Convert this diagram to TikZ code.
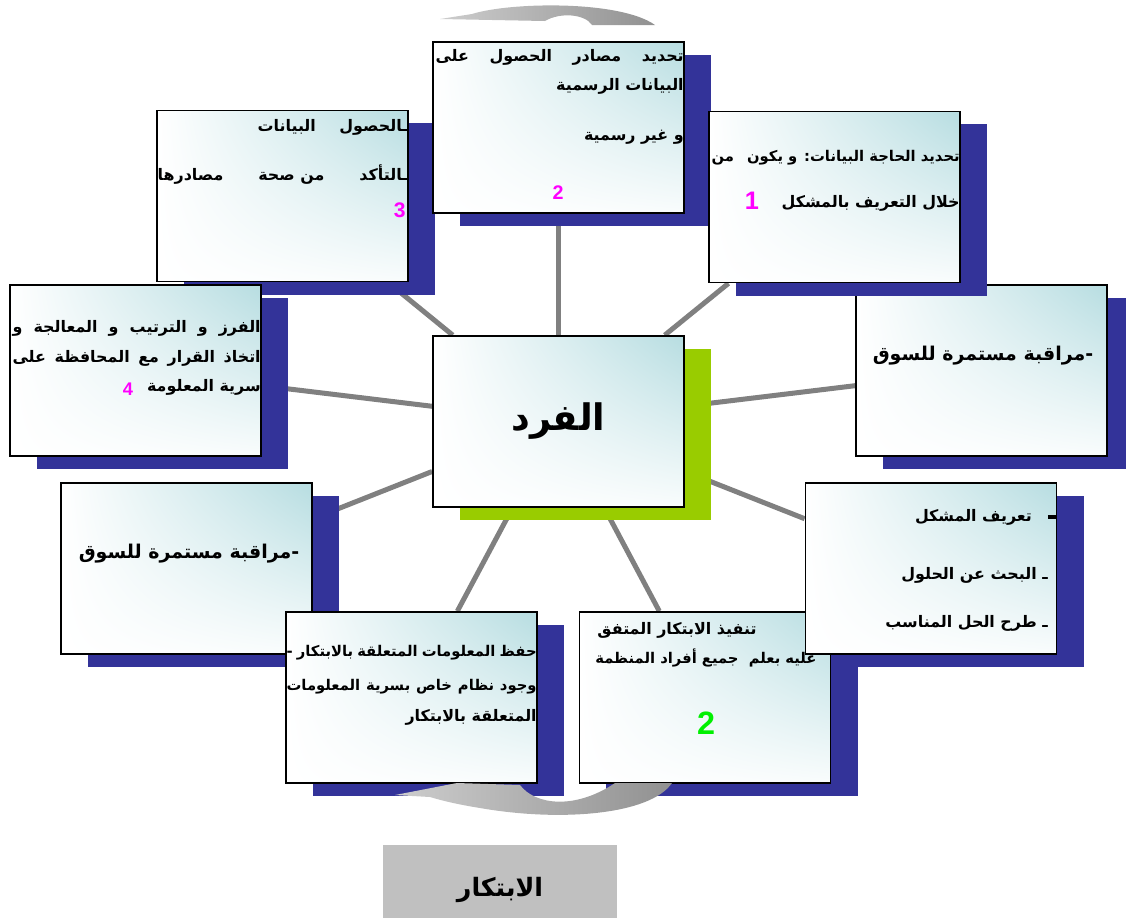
\documentclass[tikz,border=0pt]{standalone}
\usepackage{fontspec}
\newfontfamily\arabicfont[Script=Arabic]{DejaVu Sans}
\newfontfamily\numfont{Liberation Sans}
\TeXXeTstate=1
\usetikzlibrary{shadows,shadings}
\definecolor{boxblue}{RGB}{51,51,153}
\definecolor{hubgreen}{RGB}{153,204,0}
\definecolor{cellteal}{RGB}{183,221,225}
\definecolor{spokegray}{RGB}{128,128,128}
\definecolor{numpink}{RGB}{255,0,255}
\definecolor{numgreen}{RGB}{0,240,0}
\definecolor{lblgray}{RGB}{192,192,192}
\definecolor{arrowlight}{RGB}{205,205,205}
\definecolor{arrowdark}{RGB}{145,145,145}
\pgfdeclarelayer{bg}
\pgfsetlayers{bg,main}
\tikzset{
  cellbase/.style={draw=black, line width=1.2pt, minimum width=6.275cm, minimum height=4.275cm,
    inner sep=0pt, upper left=white, lower left=white, upper right=cellteal,
    lower right=white!92!cellteal},
  cell/.style={cellbase, drop shadow={shadow xshift=0.675cm, shadow yshift=-0.325cm,
    fill=boxblue, opacity=1}},
  hubcell/.style={cellbase, drop shadow={shadow xshift=0.675cm, shadow yshift=-0.325cm,
    fill=hubgreen, opacity=1}},
  spoke/.style={draw=spokegray, line width=0.125cm},
  txt/.style={font=\arabicfont\bfseries\fontsize{11.3}{13}\selectfont, inner sep=0pt},
  tighttxt/.style={font=\arabicfont\bfseries\fontsize{10.5}{12}\selectfont, inner sep=0pt},
  bigtxt/.style={font=\arabicfont\bfseries\fontsize{13.5}{15}\selectfont, inner sep=0pt},
  num/.style={font=\numfont\bfseries\fontsize{#1}{#1}\selectfont, text=numpink, inner sep=0pt},
}
\begin{document}
\begin{tikzpicture}[x=0.025cm, y=-0.025cm]
\useasboundingbox (0,0) rectangle (1126,917);

\node[cell] (topleft) at (282.5,196) {};
\node[cell] (lft) at (135.5,370.5) {};
\node[cell] (botleft) at (186.5,568.5) {};
\node[cell] (botmid) at (411.5,697.5) {};
\node[cell] (top) at (558.5,127.5) {};
\node[cell] (rgt) at (981.5,370.5) {};
\node[cell] (topright) at (834.5,197) {};
\node[cell] (botright) at (705,697.5) {};
\node[cell] (lowright) at (931,568.5) {};
\node[hubcell, font=\arabicfont\bfseries\fontsize{26}{26}\selectfont] (hub) at (558.5,421.5)
  {\raisebox{-0.22cm}{\beginR الفرد\endR}};

\begin{pgfonlayer}{bg}
  \foreach \n in {top,topright,topleft,lft,rgt,botleft,lowright,botmid,botright}
    \draw[spoke] (hub) -- (\n);
\end{pgfonlayer}

\node[txt, anchor=east] at (684,57) {\hbox to 6.2cm{\beginR تحديد\hfill مصادر\hfill الحصول\hfill على\endR}};
\node[txt, anchor=east] at (684,86) {\beginR البيانات الرسمية\endR};
\node[txt, anchor=east] at (684,137) {\beginR و غير رسمية\endR};
\node[num=14] at (558,193) {2};

\node[tighttxt, anchor=east] at (960,158) {\hbox to 6.2cm{\beginR تحديد الحاجة البيانات: و يكون\hfill من\endR}};
\node[txt, anchor=east] at (960,203) {\beginR خلال التعريف بالمشكل\endR};
\node[num=18] at (752,201) {1};

\node[txt, anchor=east] at (408,127) {\hbox to 3.75cm{\beginR ـالحصول\hfill البيانات\endR}};
\node[txt, anchor=east] at (408,175) {\hbox to 6.25cm{\beginR ـالتأكد\hfill من صحة\hfill مصادرها\endR}};
\node[num=15, anchor=east] at (406,210) {3};

\node[txt, anchor=east] at (261,328) {\hbox to 6.2cm{\beginR الفرز \hfill و \hfill الترتيب \hfill و \hfill المعالجة \hfill و\endR}};
\node[txt, anchor=east] at (261,358) {\hbox to 6.2cm{\beginR اتخاذ \hfill القرار \hfill مع \hfill المحافظة \hfill على\endR}};
\node[txt, anchor=east] at (261,387) {\beginR سرية المعلومة\endR};
\node[num=13] at (128,389) {4};

\node[bigtxt] at (983,356) {\beginR -مراقبة مستمرة للسوق\endR};
\node[bigtxt] at (189,554) {\beginR -مراقبة مستمرة للسوق\endR};

\node[txt, anchor=east] at (1057,517) {\beginR\rule[0.3ex]{0.22cm}{0.09cm}\hspace{0.4cm}تعريف المشكل\endR};
\node[txt, anchor=east] at (1048,575) {\beginR ـ البحث عن الحلول\endR};
\node[txt, anchor=east] at (1048,623) {\beginR ـ طرح الحل المناسب\endR};

\node[tighttxt, anchor=east] at (537,653) {\hbox to 6.25cm{\beginR حفظ \hfill المعلومات \hfill المتعلقة \hfill بالابتكار -\endR}};
\node[tighttxt, anchor=east] at (537,687) {\hbox to 6.25cm{\beginR وجود نظام خاص بسرية المعلومات\endR}};
\node[txt, anchor=east] at (537,717) {\beginR المتعلقة بالابتكار\endR};

\node[txt] at (677,630) {\beginR تنفيذ الابتكار المتفق\endR};
\node[tighttxt] at (706,658) {\beginR عليه بعلم\ \ جميع أفراد المنظمة\endR};
\node[num=23, text=numgreen] at (706,723) {2};

\shade[left color=arrowlight, right color=arrowdark] (440,19) -- (472,14)
  .. controls (510,2) and (620,0) .. (655,25) -- (592,25)
  .. controls (585,14) and (560,12) .. (545,21) -- cycle;
\shade[left color=arrowlight, right color=arrowdark] (395,795) -- (457,783) -- (520,785)
  .. controls (535,805) and (575,810) .. (615,783) -- (672,783)
  .. controls (650,815) and (560,822) .. (480,808)
  .. controls (455,804) and (440,800) .. (430,797) -- cycle;

\node[fill=lblgray, minimum width=5.85cm, minimum height=2.25cm, inner sep=0pt,
  font=\arabicfont\bfseries\fontsize{18}{18}\selectfont] (lbl) at (500,890) {\beginR الابتكار\endR};
\end{tikzpicture}
\end{document}
